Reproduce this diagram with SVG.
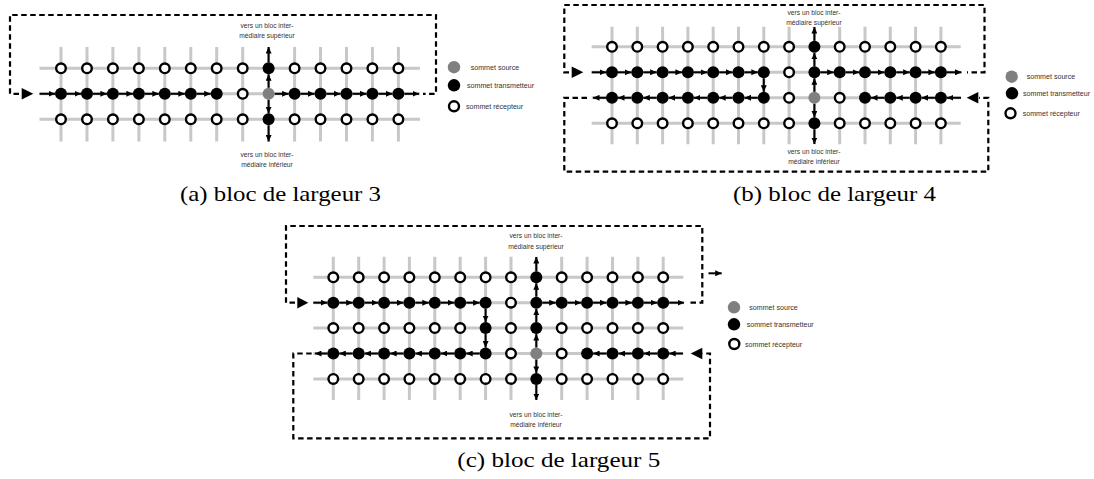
<svg xmlns="http://www.w3.org/2000/svg" width="1094" height="479" viewBox="0 0 1094 479">
<style>
.g{stroke:#c8c8c8;stroke-width:3;fill:none}
.o{fill:#fff;stroke:#000;stroke-width:2.4}
.f{fill:#000}
.s{fill:#808080}
.ar{stroke:#000;stroke-width:2;fill:none;marker-end:url(#ah)}
.d{stroke:#000;stroke-width:2.2;fill:none;stroke-dasharray:5.5 3.5}
.big{fill:#000}
.lb{font-family:"Liberation Sans",Arial,sans-serif;font-size:6.7px;fill:#333;text-anchor:middle}
.lg{font-family:"Liberation Sans",Arial,sans-serif;font-size:7.1px;fill:#333}
.cap{font-family:"Liberation Serif","Times New Roman",serif;font-size:22px;fill:#000}
</style>
<defs>
<marker id="ah" markerUnits="userSpaceOnUse" markerWidth="6.5" markerHeight="6" refX="6.5" refY="3" orient="auto"><path d="M0,0 L6.5,3 L0,6 Z" fill="#000"/></marker>
</defs>
<rect width="1094" height="479" fill="#fff"/>

<!-- ===== Panel (a) ===== -->
<g id="a-grid" class="g"><path d="M61 47V141.5M87 47V141.5M112.9 47V141.5M138.9 47V141.5M164.8 47V141.5M190.8 47V141.5M216.7 47V141.5M242.7 47V141.5M268.6 47V141.5M294.6 47V141.5M320.5 47V141.5M346.5 47V141.5M372.4 47V141.5M398.4 47V141.5M39.5 68.3H420M39.5 93.8H420M39.5 119.3H420"/></g>
<g id="a-connectors">
<path class="d" d="M19 93.8H10V15H436V93.8H423"/>
<polygon class="big" points="21.7,88 33.3,93.8 21.7,99.6"/>
<path class="ar" d="M39.5 93.8H55"/><path class="ar" d="M67 93.8H81"/><path class="ar" d="M93 93.8H106.9"/><path class="ar" d="M118.9 93.8H132.9"/><path class="ar" d="M144.9 93.8H158.8"/><path class="ar" d="M170.8 93.8H184.8"/><path class="ar" d="M196.8 93.8H210.7"/>
<path class="ar" d="M274.6 93.8H288.6"/><path class="ar" d="M300.6 93.8H314.5"/><path class="ar" d="M326.5 93.8H340.5"/><path class="ar" d="M352.5 93.8H366.4"/><path class="ar" d="M378.4 93.8H392.4"/><path class="ar" d="M404.4 93.8H419"/>
<path class="ar" d="M268.6 87.8V74.3"/><path class="ar" d="M268.6 62.3V47"/><path class="ar" d="M268.6 99.8V113.3"/><path class="ar" d="M268.6 125.3V141.5"/>
</g>
<g id="a-r0c0"><circle class="o" cx="61" cy="68.3" r="4.8"/></g>
<g id="a-r0c1"><circle class="o" cx="87" cy="68.3" r="4.8"/></g>
<g id="a-r0c2"><circle class="o" cx="112.9" cy="68.3" r="4.8"/></g>
<g id="a-r0c3"><circle class="o" cx="138.9" cy="68.3" r="4.8"/></g>
<g id="a-r0c4"><circle class="o" cx="164.8" cy="68.3" r="4.8"/></g>
<g id="a-r0c5"><circle class="o" cx="190.8" cy="68.3" r="4.8"/></g>
<g id="a-r0c6"><circle class="o" cx="216.7" cy="68.3" r="4.8"/></g>
<g id="a-r0c7"><circle class="o" cx="242.7" cy="68.3" r="4.8"/></g>
<g id="a-r0c8"><circle class="f" cx="268.6" cy="68.3" r="6"/></g>
<g id="a-r0c9"><circle class="o" cx="294.6" cy="68.3" r="4.8"/></g>
<g id="a-r0c10"><circle class="o" cx="320.5" cy="68.3" r="4.8"/></g>
<g id="a-r0c11"><circle class="o" cx="346.5" cy="68.3" r="4.8"/></g>
<g id="a-r0c12"><circle class="o" cx="372.4" cy="68.3" r="4.8"/></g>
<g id="a-r0c13"><circle class="o" cx="398.4" cy="68.3" r="4.8"/></g>
<g id="a-r1c0"><circle class="f" cx="61" cy="93.8" r="6"/></g>
<g id="a-r1c1"><circle class="f" cx="87" cy="93.8" r="6"/></g>
<g id="a-r1c2"><circle class="f" cx="112.9" cy="93.8" r="6"/></g>
<g id="a-r1c3"><circle class="f" cx="138.9" cy="93.8" r="6"/></g>
<g id="a-r1c4"><circle class="f" cx="164.8" cy="93.8" r="6"/></g>
<g id="a-r1c5"><circle class="f" cx="190.8" cy="93.8" r="6"/></g>
<g id="a-r1c6"><circle class="f" cx="216.7" cy="93.8" r="6"/></g>
<g id="a-r1c7"><circle class="o" cx="242.7" cy="93.8" r="4.8"/></g>
<g id="a-r1c8"><circle class="s" cx="268.6" cy="93.8" r="6"/></g>
<g id="a-r1c9"><circle class="f" cx="294.6" cy="93.8" r="6"/></g>
<g id="a-r1c10"><circle class="f" cx="320.5" cy="93.8" r="6"/></g>
<g id="a-r1c11"><circle class="f" cx="346.5" cy="93.8" r="6"/></g>
<g id="a-r1c12"><circle class="f" cx="372.4" cy="93.8" r="6"/></g>
<g id="a-r1c13"><circle class="f" cx="398.4" cy="93.8" r="6"/></g>
<g id="a-r2c0"><circle class="o" cx="61" cy="119.3" r="4.8"/></g>
<g id="a-r2c1"><circle class="o" cx="87" cy="119.3" r="4.8"/></g>
<g id="a-r2c2"><circle class="o" cx="112.9" cy="119.3" r="4.8"/></g>
<g id="a-r2c3"><circle class="o" cx="138.9" cy="119.3" r="4.8"/></g>
<g id="a-r2c4"><circle class="o" cx="164.8" cy="119.3" r="4.8"/></g>
<g id="a-r2c5"><circle class="o" cx="190.8" cy="119.3" r="4.8"/></g>
<g id="a-r2c6"><circle class="o" cx="216.7" cy="119.3" r="4.8"/></g>
<g id="a-r2c7"><circle class="o" cx="242.7" cy="119.3" r="4.8"/></g>
<g id="a-r2c8"><circle class="f" cx="268.6" cy="119.3" r="6"/></g>
<g id="a-r2c9"><circle class="o" cx="294.6" cy="119.3" r="4.8"/></g>
<g id="a-r2c10"><circle class="o" cx="320.5" cy="119.3" r="4.8"/></g>
<g id="a-r2c11"><circle class="o" cx="346.5" cy="119.3" r="4.8"/></g>
<g id="a-r2c12"><circle class="o" cx="372.4" cy="119.3" r="4.8"/></g>
<g id="a-r2c13"><circle class="o" cx="398.4" cy="119.3" r="4.8"/></g>
<g id="a-labels">
<text class="lb" x="267" y="28">vers un bloc inter-</text>
<text class="lb" x="267" y="38">médiaire supérieur</text>
<text class="lb" x="267" y="156.5">vers un bloc inter-</text>
<text class="lb" x="267" y="166.5">médiaire inférieur</text>
</g>
<g id="a-legend">
<circle class="s" cx="454" cy="67.2" r="6.2"/><text class="lg" x="470.7" y="69.6">sommet source</text>
<circle class="f" cx="454" cy="85.3" r="6.2"/><text class="lg" x="467" y="87.8">sommet transmetteur</text>
<circle class="o" cx="454" cy="106.3" r="5"/><text class="lg" x="466" y="108.8">sommet récepteur</text>
</g>
<text class="cap" x="180" y="200.5" textLength="201" lengthAdjust="spacingAndGlyphs">(a) bloc de largeur 3</text>

<!-- ===== Panel (b) ===== -->
<g id="b-grid" class="g"><path d="M612 26.7V144.3M637.3 26.7V144.3M662.6 26.7V144.3M687.9 26.7V144.3M713.2 26.7V144.3M738.5 26.7V144.3M763.8 26.7V144.3M789.1 26.7V144.3M814.4 26.7V144.3M839.7 26.7V144.3M865 26.7V144.3M890.3 26.7V144.3M915.6 26.7V144.3M940.9 26.7V144.3M591.7 46.8H960.7M591.7 72.3H960.7M591.7 97.8H960.7M591.7 123.3H960.7"/></g>
<g id="b-connectors">
<path class="d" d="M569 72.3H564.3V5H984.5V72.3H967"/>
<polygon class="big" points="571.7,66.5 583.3,72.3 571.7,78.1"/>
<path class="d" d="M587 97.8H564.3V171.7H988.3V97.8H979"/>
<polygon class="big" points="978.3,92 966.7,97.8 978.3,103.6"/>
<path class="ar" d="M591.7 72.3H606"/><path class="ar" d="M618 72.3H631.3"/><path class="ar" d="M643.3 72.3H656.6"/><path class="ar" d="M668.6 72.3H681.9"/><path class="ar" d="M693.9 72.3H707.2"/><path class="ar" d="M719.2 72.3H732.5"/><path class="ar" d="M744.5 72.3H757.8"/>
<path class="ar" d="M820.4 72.3H833.7"/><path class="ar" d="M845.7 72.3H859"/><path class="ar" d="M871 72.3H884.3"/><path class="ar" d="M896.3 72.3H909.6"/><path class="ar" d="M921.6 72.3H934.9"/><path class="ar" d="M946.9 72.3H961.5"/>
<path class="ar" d="M763.8 78.3V91.8"/>
<path class="ar" d="M757.8 97.8H744.5"/><path class="ar" d="M732.5 97.8H719.2"/><path class="ar" d="M707.2 97.8H693.9"/><path class="ar" d="M681.9 97.8H668.6"/><path class="ar" d="M656.6 97.8H643.3"/><path class="ar" d="M631.3 97.8H618"/><path class="ar" d="M606 97.8H593"/>
<path class="ar" d="M961 97.8H946.9"/><path class="ar" d="M934.9 97.8H921.6"/><path class="ar" d="M909.6 97.8H896.3"/><path class="ar" d="M884.3 97.8H871"/>
<path class="ar" d="M814.4 91.8V78.3"/><path class="ar" d="M814.4 66.3V52.8"/><path class="ar" d="M814.4 40.8V27"/><path class="ar" d="M814.4 103.8V117.3"/><path class="ar" d="M814.4 129.3V144"/>
</g>
<g id="b-r0c0"><circle class="o" cx="612" cy="46.8" r="4.8"/></g>
<g id="b-r0c1"><circle class="o" cx="637.3" cy="46.8" r="4.8"/></g>
<g id="b-r0c2"><circle class="o" cx="662.6" cy="46.8" r="4.8"/></g>
<g id="b-r0c3"><circle class="o" cx="687.9" cy="46.8" r="4.8"/></g>
<g id="b-r0c4"><circle class="o" cx="713.2" cy="46.8" r="4.8"/></g>
<g id="b-r0c5"><circle class="o" cx="738.5" cy="46.8" r="4.8"/></g>
<g id="b-r0c6"><circle class="o" cx="763.8" cy="46.8" r="4.8"/></g>
<g id="b-r0c7"><circle class="o" cx="789.1" cy="46.8" r="4.8"/></g>
<g id="b-r0c8"><circle class="f" cx="814.4" cy="46.8" r="6"/></g>
<g id="b-r0c9"><circle class="o" cx="839.7" cy="46.8" r="4.8"/></g>
<g id="b-r0c10"><circle class="o" cx="865" cy="46.8" r="4.8"/></g>
<g id="b-r0c11"><circle class="o" cx="890.3" cy="46.8" r="4.8"/></g>
<g id="b-r0c12"><circle class="o" cx="915.6" cy="46.8" r="4.8"/></g>
<g id="b-r0c13"><circle class="o" cx="940.9" cy="46.8" r="4.8"/></g>
<g id="b-r1c0"><circle class="f" cx="612" cy="72.3" r="6"/></g>
<g id="b-r1c1"><circle class="f" cx="637.3" cy="72.3" r="6"/></g>
<g id="b-r1c2"><circle class="f" cx="662.6" cy="72.3" r="6"/></g>
<g id="b-r1c3"><circle class="f" cx="687.9" cy="72.3" r="6"/></g>
<g id="b-r1c4"><circle class="f" cx="713.2" cy="72.3" r="6"/></g>
<g id="b-r1c5"><circle class="f" cx="738.5" cy="72.3" r="6"/></g>
<g id="b-r1c6"><circle class="f" cx="763.8" cy="72.3" r="6"/></g>
<g id="b-r1c7"><circle class="o" cx="789.1" cy="72.3" r="4.8"/></g>
<g id="b-r1c8"><circle class="f" cx="814.4" cy="72.3" r="6"/></g>
<g id="b-r1c9"><circle class="f" cx="839.7" cy="72.3" r="6"/></g>
<g id="b-r1c10"><circle class="f" cx="865" cy="72.3" r="6"/></g>
<g id="b-r1c11"><circle class="f" cx="890.3" cy="72.3" r="6"/></g>
<g id="b-r1c12"><circle class="f" cx="915.6" cy="72.3" r="6"/></g>
<g id="b-r1c13"><circle class="f" cx="940.9" cy="72.3" r="6"/></g>
<g id="b-r2c0"><circle class="f" cx="612" cy="97.8" r="6"/></g>
<g id="b-r2c1"><circle class="f" cx="637.3" cy="97.8" r="6"/></g>
<g id="b-r2c2"><circle class="f" cx="662.6" cy="97.8" r="6"/></g>
<g id="b-r2c3"><circle class="f" cx="687.9" cy="97.8" r="6"/></g>
<g id="b-r2c4"><circle class="f" cx="713.2" cy="97.8" r="6"/></g>
<g id="b-r2c5"><circle class="f" cx="738.5" cy="97.8" r="6"/></g>
<g id="b-r2c6"><circle class="f" cx="763.8" cy="97.8" r="6"/></g>
<g id="b-r2c7"><circle class="o" cx="789.1" cy="97.8" r="4.8"/></g>
<g id="b-r2c8"><circle class="s" cx="814.4" cy="97.8" r="6"/></g>
<g id="b-r2c9"><circle class="o" cx="839.7" cy="97.8" r="4.8"/></g>
<g id="b-r2c10"><circle class="f" cx="865" cy="97.8" r="6"/></g>
<g id="b-r2c11"><circle class="f" cx="890.3" cy="97.8" r="6"/></g>
<g id="b-r2c12"><circle class="f" cx="915.6" cy="97.8" r="6"/></g>
<g id="b-r2c13"><circle class="f" cx="940.9" cy="97.8" r="6"/></g>
<g id="b-r3c0"><circle class="o" cx="612" cy="123.3" r="4.8"/></g>
<g id="b-r3c1"><circle class="o" cx="637.3" cy="123.3" r="4.8"/></g>
<g id="b-r3c2"><circle class="o" cx="662.6" cy="123.3" r="4.8"/></g>
<g id="b-r3c3"><circle class="o" cx="687.9" cy="123.3" r="4.8"/></g>
<g id="b-r3c4"><circle class="o" cx="713.2" cy="123.3" r="4.8"/></g>
<g id="b-r3c5"><circle class="o" cx="738.5" cy="123.3" r="4.8"/></g>
<g id="b-r3c6"><circle class="o" cx="763.8" cy="123.3" r="4.8"/></g>
<g id="b-r3c7"><circle class="o" cx="789.1" cy="123.3" r="4.8"/></g>
<g id="b-r3c8"><circle class="f" cx="814.4" cy="123.3" r="6"/></g>
<g id="b-r3c9"><circle class="o" cx="839.7" cy="123.3" r="4.8"/></g>
<g id="b-r3c10"><circle class="o" cx="865" cy="123.3" r="4.8"/></g>
<g id="b-r3c11"><circle class="o" cx="890.3" cy="123.3" r="4.8"/></g>
<g id="b-r3c12"><circle class="o" cx="915.6" cy="123.3" r="4.8"/></g>
<g id="b-r3c13"><circle class="o" cx="940.9" cy="123.3" r="4.8"/></g>
<g id="b-labels">
<text class="lb" x="814" y="14.8">vers un bloc inter-</text>
<text class="lb" x="814" y="24.8">médiaire supérieur</text>
<text class="lb" x="814" y="154.2">vers un bloc inter-</text>
<text class="lb" x="814" y="164.2">médiaire inférieur</text>
</g>
<g id="b-legend">
<circle class="s" cx="1011.7" cy="76.7" r="6.2"/><text class="lg" x="1026.7" y="79.1">sommet source</text>
<circle class="f" cx="1012" cy="93.3" r="6.2"/><text class="lg" x="1023" y="95.8">sommet transmetteur</text>
<circle class="o" cx="1010.5" cy="113.3" r="5"/><text class="lg" x="1022.7" y="115.8">sommet récepteur</text>
</g>
<text class="cap" x="733" y="200.5" textLength="203" lengthAdjust="spacingAndGlyphs">(b) bloc de largeur 4</text>

<!-- ===== Panel (c) ===== -->
<g id="c-grid" class="g"><path d="M333.3 256.7V400M358.7 256.7V400M384.1 256.7V400M409.4 256.7V400M434.8 256.7V400M460.2 256.7V400M485.6 256.7V400M511 256.7V400M536.3 256.7V400M561.7 256.7V400M587.1 256.7V400M612.5 256.7V400M637.9 256.7V400M663.2 256.7V400M313.3 277.3H683.3M313.3 302.7H683.3M313.3 328.1H683.3M313.3 353.5H683.3M313.3 378.9H683.3"/></g>
<g id="c-connectors">
<path class="d" d="M295 302.7H286V226H702.3V302.7H688"/>
<polygon class="big" points="297.3,296.9 308.3,302.7 297.3,308.5"/>
<path class="d" d="M311.7 353.5H293.3V438.3H710V353.5H702.3"/>
<polygon class="big" points="702.3,347.7 690.7,353.5 702.3,359.3"/>
<path class="ar" d="M708.5 273.3H721.7"/>
<path class="ar" d="M313.3 302.7H327.3"/><path class="ar" d="M339.3 302.7H352.7"/><path class="ar" d="M364.7 302.7H378.1"/><path class="ar" d="M390.1 302.7H403.4"/><path class="ar" d="M415.4 302.7H428.8"/><path class="ar" d="M440.8 302.7H454.2"/><path class="ar" d="M466.2 302.7H479.6"/>
<path class="ar" d="M542.3 302.7H555.7"/><path class="ar" d="M567.7 302.7H581.1"/><path class="ar" d="M593.1 302.7H606.5"/><path class="ar" d="M618.5 302.7H631.9"/><path class="ar" d="M643.9 302.7H657.2"/><path class="ar" d="M669.2 302.7H684"/>
<path class="ar" d="M485.6 308.7V322.1"/><path class="ar" d="M485.6 334.1V347.5"/>
<path class="ar" d="M479.6 353.5H466.2"/><path class="ar" d="M454.2 353.5H440.8"/><path class="ar" d="M428.8 353.5H415.4"/><path class="ar" d="M403.4 353.5H390.1"/><path class="ar" d="M378.1 353.5H364.7"/><path class="ar" d="M352.7 353.5H339.3"/><path class="ar" d="M327.3 353.5H315"/>
<path class="ar" d="M683 353.5H669.2"/><path class="ar" d="M657.2 353.5H643.9"/><path class="ar" d="M631.9 353.5H618.5"/><path class="ar" d="M606.5 353.5H593.1"/>
<path class="ar" d="M536.3 347.5V334.1"/><path class="ar" d="M536.3 322.1V308.7"/><path class="ar" d="M536.3 296.7V283.3"/><path class="ar" d="M536.3 271.3V257"/><path class="ar" d="M536.3 359.5V372.9"/><path class="ar" d="M536.3 384.9V400"/>
</g>
<g id="c-r0c0"><circle class="o" cx="333.3" cy="277.3" r="4.8"/></g>
<g id="c-r0c1"><circle class="o" cx="358.7" cy="277.3" r="4.8"/></g>
<g id="c-r0c2"><circle class="o" cx="384.1" cy="277.3" r="4.8"/></g>
<g id="c-r0c3"><circle class="o" cx="409.4" cy="277.3" r="4.8"/></g>
<g id="c-r0c4"><circle class="o" cx="434.8" cy="277.3" r="4.8"/></g>
<g id="c-r0c5"><circle class="o" cx="460.2" cy="277.3" r="4.8"/></g>
<g id="c-r0c6"><circle class="o" cx="485.6" cy="277.3" r="4.8"/></g>
<g id="c-r0c7"><circle class="o" cx="511" cy="277.3" r="4.8"/></g>
<g id="c-r0c8"><circle class="f" cx="536.3" cy="277.3" r="6"/></g>
<g id="c-r0c9"><circle class="o" cx="561.7" cy="277.3" r="4.8"/></g>
<g id="c-r0c10"><circle class="o" cx="587.1" cy="277.3" r="4.8"/></g>
<g id="c-r0c11"><circle class="o" cx="612.5" cy="277.3" r="4.8"/></g>
<g id="c-r0c12"><circle class="o" cx="637.9" cy="277.3" r="4.8"/></g>
<g id="c-r0c13"><circle class="o" cx="663.2" cy="277.3" r="4.8"/></g>
<g id="c-r1c0"><circle class="f" cx="333.3" cy="302.7" r="6"/></g>
<g id="c-r1c1"><circle class="f" cx="358.7" cy="302.7" r="6"/></g>
<g id="c-r1c2"><circle class="f" cx="384.1" cy="302.7" r="6"/></g>
<g id="c-r1c3"><circle class="f" cx="409.4" cy="302.7" r="6"/></g>
<g id="c-r1c4"><circle class="f" cx="434.8" cy="302.7" r="6"/></g>
<g id="c-r1c5"><circle class="f" cx="460.2" cy="302.7" r="6"/></g>
<g id="c-r1c6"><circle class="f" cx="485.6" cy="302.7" r="6"/></g>
<g id="c-r1c7"><circle class="o" cx="511" cy="302.7" r="4.8"/></g>
<g id="c-r1c8"><circle class="f" cx="536.3" cy="302.7" r="6"/></g>
<g id="c-r1c9"><circle class="f" cx="561.7" cy="302.7" r="6"/></g>
<g id="c-r1c10"><circle class="f" cx="587.1" cy="302.7" r="6"/></g>
<g id="c-r1c11"><circle class="f" cx="612.5" cy="302.7" r="6"/></g>
<g id="c-r1c12"><circle class="f" cx="637.9" cy="302.7" r="6"/></g>
<g id="c-r1c13"><circle class="f" cx="663.2" cy="302.7" r="6"/></g>
<g id="c-r2c0"><circle class="o" cx="333.3" cy="328.1" r="4.8"/></g>
<g id="c-r2c1"><circle class="o" cx="358.7" cy="328.1" r="4.8"/></g>
<g id="c-r2c2"><circle class="o" cx="384.1" cy="328.1" r="4.8"/></g>
<g id="c-r2c3"><circle class="o" cx="409.4" cy="328.1" r="4.8"/></g>
<g id="c-r2c4"><circle class="o" cx="434.8" cy="328.1" r="4.8"/></g>
<g id="c-r2c5"><circle class="o" cx="460.2" cy="328.1" r="4.8"/></g>
<g id="c-r2c6"><circle class="f" cx="485.6" cy="328.1" r="6"/></g>
<g id="c-r2c7"><circle class="o" cx="511" cy="328.1" r="4.8"/></g>
<g id="c-r2c8"><circle class="f" cx="536.3" cy="328.1" r="6"/></g>
<g id="c-r2c9"><circle class="o" cx="561.7" cy="328.1" r="4.8"/></g>
<g id="c-r2c10"><circle class="o" cx="587.1" cy="328.1" r="4.8"/></g>
<g id="c-r2c11"><circle class="o" cx="612.5" cy="328.1" r="4.8"/></g>
<g id="c-r2c12"><circle class="o" cx="637.9" cy="328.1" r="4.8"/></g>
<g id="c-r2c13"><circle class="o" cx="663.2" cy="328.1" r="4.8"/></g>
<g id="c-r3c0"><circle class="f" cx="333.3" cy="353.5" r="6"/></g>
<g id="c-r3c1"><circle class="f" cx="358.7" cy="353.5" r="6"/></g>
<g id="c-r3c2"><circle class="f" cx="384.1" cy="353.5" r="6"/></g>
<g id="c-r3c3"><circle class="f" cx="409.4" cy="353.5" r="6"/></g>
<g id="c-r3c4"><circle class="f" cx="434.8" cy="353.5" r="6"/></g>
<g id="c-r3c5"><circle class="f" cx="460.2" cy="353.5" r="6"/></g>
<g id="c-r3c6"><circle class="f" cx="485.6" cy="353.5" r="6"/></g>
<g id="c-r3c7"><circle class="o" cx="511" cy="353.5" r="4.8"/></g>
<g id="c-r3c8"><circle class="s" cx="536.3" cy="353.5" r="6"/></g>
<g id="c-r3c9"><circle class="o" cx="561.7" cy="353.5" r="4.8"/></g>
<g id="c-r3c10"><circle class="f" cx="587.1" cy="353.5" r="6"/></g>
<g id="c-r3c11"><circle class="f" cx="612.5" cy="353.5" r="6"/></g>
<g id="c-r3c12"><circle class="f" cx="637.9" cy="353.5" r="6"/></g>
<g id="c-r3c13"><circle class="f" cx="663.2" cy="353.5" r="6"/></g>
<g id="c-r4c0"><circle class="o" cx="333.3" cy="378.9" r="4.8"/></g>
<g id="c-r4c1"><circle class="o" cx="358.7" cy="378.9" r="4.8"/></g>
<g id="c-r4c2"><circle class="o" cx="384.1" cy="378.9" r="4.8"/></g>
<g id="c-r4c3"><circle class="o" cx="409.4" cy="378.9" r="4.8"/></g>
<g id="c-r4c4"><circle class="o" cx="434.8" cy="378.9" r="4.8"/></g>
<g id="c-r4c5"><circle class="o" cx="460.2" cy="378.9" r="4.8"/></g>
<g id="c-r4c6"><circle class="o" cx="485.6" cy="378.9" r="4.8"/></g>
<g id="c-r4c7"><circle class="o" cx="511" cy="378.9" r="4.8"/></g>
<g id="c-r4c8"><circle class="f" cx="536.3" cy="378.9" r="6"/></g>
<g id="c-r4c9"><circle class="o" cx="561.7" cy="378.9" r="4.8"/></g>
<g id="c-r4c10"><circle class="o" cx="587.1" cy="378.9" r="4.8"/></g>
<g id="c-r4c11"><circle class="o" cx="612.5" cy="378.9" r="4.8"/></g>
<g id="c-r4c12"><circle class="o" cx="637.9" cy="378.9" r="4.8"/></g>
<g id="c-r4c13"><circle class="o" cx="663.2" cy="378.9" r="4.8"/></g>
<g id="c-labels">
<text class="lb" x="536" y="238.2">vers un bloc inter-</text>
<text class="lb" x="536" y="249.2">médiaire supérieur</text>
<text class="lb" x="536" y="416.8">vers un bloc inter-</text>
<text class="lb" x="536" y="426.8">médiaire inférieur</text>
</g>
<g id="c-legend">
<circle class="s" cx="734" cy="307.3" r="6.2"/><text class="lg" x="749.3" y="309.7">sommet source</text>
<circle class="f" cx="734" cy="324.3" r="6.2"/><text class="lg" x="746.7" y="326.8">sommet transmetteur</text>
<circle class="o" cx="734.3" cy="344" r="5"/><text class="lg" x="745" y="346.5">sommet récepteur</text>
</g>
<text class="cap" x="457.3" y="467.2" textLength="203" lengthAdjust="spacingAndGlyphs">(c) bloc de largeur 5</text>
</svg>
